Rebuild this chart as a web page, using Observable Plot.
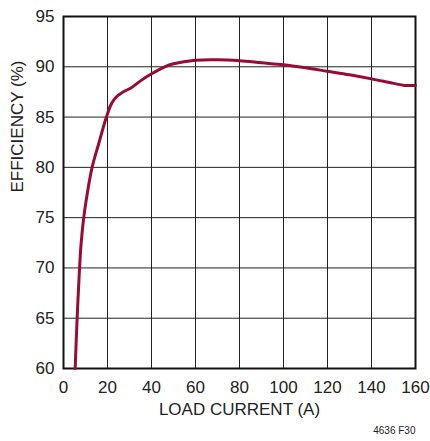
<!DOCTYPE html>
<html>
<head>
<meta charset="utf-8">
<script src="https://cdn.jsdelivr.net/npm/d3@7"></script>
<script src="https://cdn.jsdelivr.net/npm/@observablehq/plot@0.6"></script>
<style>
  html, body { margin: 0; padding: 0; background: #fff; }
  #chart svg { display: block; }
</style>
</head>
<body>
<div id="chart"></div>
<script>
const loadCurrent = [5.3, 6.2, 7.3, 8.0, 9.2, 10.8, 13, 16, 19.5, 21.4, 22.9, 24.8, 26.7, 31, 35, 40, 46, 50, 60, 70, 80, 90, 100, 110, 120, 130, 140, 150, 155, 160];
const efficiency  = [60, 65, 70, 72.4, 75, 77.4, 80, 82.35, 85, 86.15, 86.7, 87.15, 87.45, 87.95, 88.6, 89.3, 90, 90.3, 90.65, 90.7, 90.6, 90.4, 90.2, 89.9, 89.55, 89.2, 88.8, 88.35, 88.15, 88.15];
const xTicks = [0, 20, 40, 60, 80, 100, 120, 140, 160];
const yTicks = [60, 65, 70, 75, 80, 85, 90, 95];
const xLabel = "LOAD CURRENT (A)";
const yLabel = "EFFICIENCY (%)";
const note = "4636 F30";

const data = loadCurrent.map((x, i) => ({x, y: efficiency[i]}));
const font = "'Liberation Sans Narrow', 'Arial Narrow', 'Liberation Sans', sans-serif";

const chart = Plot.plot({
  width: 430,
  height: 441,
  marginLeft: 63,
  marginRight: 15,
  marginTop: 16,
  marginBottom: 73,
  style: {fontFamily: font, fontSize: "17px", color: "#222", background: "#fff"},
  x: {domain: [0, 160], ticks: xTicks, tickSize: 0, tickPadding: 12, label: null},
  y: {domain: [60, 95], ticks: yTicks, tickSize: 0, tickPadding: 9, label: null},
  marks: [
    Plot.gridX(xTicks, {stroke: "#222", strokeOpacity: 1, strokeWidth: 1}),
    Plot.gridY(yTicks, {stroke: "#222", strokeOpacity: 1, strokeWidth: 1}),
    Plot.frame({stroke: "#111", strokeWidth: 2}),
    Plot.line(data, {x: "x", y: "y", stroke: "#9a0a36", strokeWidth: 3, curve: "catmull-rom"}),
    Plot.text([xLabel], {frameAnchor: "bottom", dy: 46, text: d => d, fontSize: 17, fill: "#222"}),
    Plot.text([yLabel], {frameAnchor: "left", dx: -46, rotate: -90, text: d => d, fontSize: 17, fill: "#222"}),
    Plot.text([note], {frameAnchor: "bottom-right", dy: 65, textAnchor: "end", text: d => d, fontSize: 10, fill: "#222"})
  ]
});
document.getElementById("chart").append(chart);
</script>
</body>
</html>
